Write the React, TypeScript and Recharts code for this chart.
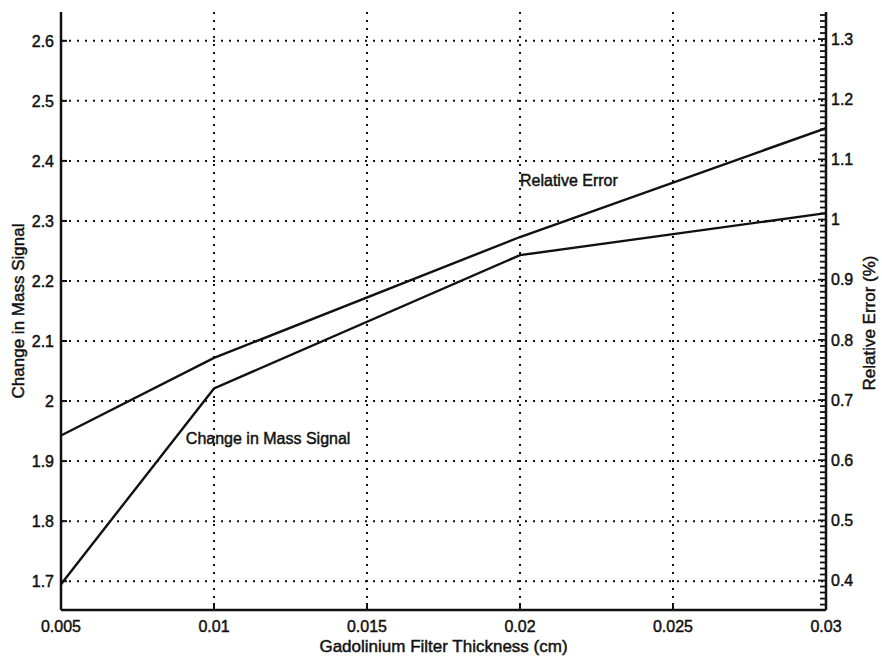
import React from 'react';
import { LineChart, Line, XAxis, YAxis, CartesianGrid, ReferenceDot } from 'recharts';

const thickness = [0.005, 0.01, 0.02, 0.03];
const massSignal = [1.695, 2.021, 2.243, 2.313];
const relativeError = [0.641, 0.77, 0.971, 1.152];

const xTicks = [0.005, 0.01, 0.015, 0.02, 0.025, 0.03];
const leftTicks = [1.7, 1.8, 1.9, 2, 2.1, 2.2, 2.3, 2.4, 2.5, 2.6];
const rightMajorTicks = [0.4, 0.5, 0.6, 0.7, 0.8, 0.9, 1, 1.1, 1.2, 1.3];
const rightMinorStep = 0.01;
const rightMinorRange = [0.36, 1.34];

const rightTicks: number[] = [];
for (let k = Math.round(rightMinorRange[0] / rightMinorStep); k <= Math.round(rightMinorRange[1] / rightMinorStep); k++) {
  rightTicks.push(Math.round(k * rightMinorStep * 100) / 100);
}

const data = thickness.map((t, i) => ({ t, mass: massSignal[i], err: relativeError[i] }));

const FONT = '"Liberation Sans", Arial, Helvetica, sans-serif';
const FS = 16;
const TFS = 17;
const INK = '#111';
const THICK = { stroke: INK, strokeWidth: 0.45 };

const LeftTick = (p: any) => {
  const { x, y, payload } = p;
  return (
    <g>
      <line x1={x} y1={y} x2={x + 6} y2={y} stroke={INK} strokeWidth={2} />
      <text x={x - 7} y={y} dy="0.36em" textAnchor="end" fontFamily={FONT} fontSize={FS} fill={INK} {...THICK}>
        {String(payload.value)}
      </text>
    </g>
  );
};

const RightTick = (p: any) => {
  const { x, y, payload } = p;
  const v = payload.value;
  const isMajor = Math.round(v * 100) % 10 === 0;
  const label = rightMajorTicks.find((m) => Math.abs(m - v) < 1e-6);
  return (
    <g>
      <line x1={x - (isMajor ? 8 : 6)} y1={y} x2={x} y2={y} stroke={INK} strokeWidth={1.8} />
      {isMajor && label !== undefined ? (
        <text x={x + 5} y={y} dy="0.36em" textAnchor="start" fontFamily={FONT} fontSize={FS} fill={INK} {...THICK}>
          {String(label)}
        </text>
      ) : null}
    </g>
  );
};

const BottomTick = (p: any) => {
  const { x, y, payload } = p;
  return (
    <g>
      <line x1={x} y1={y} x2={x} y2={y - 7} stroke={INK} strokeWidth={2} />
      <text x={x} y={y + 16} dy="0.36em" textAnchor="middle" fontFamily={FONT} fontSize={FS} fill={INK} {...THICK}>
        {String(payload.value)}
      </text>
    </g>
  );
};

const LeftTitle = (p: any) => {
  const vb = p.viewBox || { x: 0, y: 12, width: 61, height: 598 };
  const cx = vb.x + 18;
  const cy = vb.y + vb.height / 2;
  return (
    <text x={cx} y={cy} dy="0.36em" transform={`rotate(-90 ${cx} ${cy})`} textAnchor="middle" fontFamily={FONT} fontSize={TFS} fill={INK} {...THICK}>
      Change in Mass Signal
    </text>
  );
};

const RightTitle = (p: any) => {
  const vb = p.viewBox || { x: 826, y: 12, width: 56, height: 598 };
  const cx = vb.x + 43;
  const cy = vb.y + vb.height / 2 + 12;
  return (
    <text x={cx} y={cy} dy="0.36em" transform={`rotate(-90 ${cx} ${cy})`} textAnchor="middle" fontFamily={FONT} fontSize={TFS} fill={INK} {...THICK}>
      Relative Error (%)
    </text>
  );
};

const BottomTitle = (p: any) => {
  const vb = p.viewBox || { x: 61, y: 610, width: 765, height: 49 };
  const cx = vb.x + vb.width / 2;
  const cy = vb.y + 36;
  return (
    <text x={cx} y={cy} dy="0.36em" textAnchor="middle" fontFamily={FONT} fontSize={TFS} fill={INK} {...THICK}>
      Gadolinium Filter Thickness (cm)
    </text>
  );
};

const InPlotLabel = (text: string) => (p: any) => {
  const vb = p.viewBox || { x: 0, y: 0 };
  return (
    <text x={vb.x} y={vb.y} dy="0.36em" textAnchor="start" fontFamily={FONT} fontSize={FS} fill={INK} {...THICK}>
      {text}
    </text>
  );
};

export default function App() {
  return (
    <div style={{ position: 'absolute', left: 0, top: 0, width: 882, height: 659, background: '#fff' }}>
      <LineChart width={882} height={659} data={data} margin={{ top: 12, right: 0, bottom: 0, left: 0 }}>
        <CartesianGrid
          yAxisId="left"
          xAxisId="bottom"
          stroke={INK}
          strokeWidth={2}
          strokeDasharray="2 6"
          horizontalValues={leftTicks}
          verticalValues={xTicks}
        />
        <XAxis
          xAxisId="bottom"
          dataKey="t"
          type="number"
          domain={[0.005, 0.03]}
          ticks={xTicks}
          interval={0}
          height={49}
          tickSize={0}
          tickMargin={0}
          tickLine={false}
          axisLine={{ stroke: INK, strokeWidth: 2.5 }}
          tick={BottomTick}
          allowDataOverflow
          label={{ content: BottomTitle }}
        />
        <XAxis
          xAxisId="top"
          orientation="top"
          dataKey="t"
          type="number"
          domain={[0.005, 0.03]}
          height={0}
          tick={false}
          tickLine={false}
          axisLine={{ stroke: INK, strokeWidth: 2.5 }}
        />
        <YAxis
          yAxisId="left"
          type="number"
          domain={[1.652, 2.648]}
          ticks={leftTicks}
          interval={0}
          width={61}
          tickSize={0}
          tickMargin={0}
          tickLine={false}
          axisLine={{ stroke: INK, strokeWidth: 2.5 }}
          tick={LeftTick}
          allowDataOverflow
          label={{ content: LeftTitle }}
        />
        <YAxis
          yAxisId="right"
          orientation="right"
          type="number"
          domain={[0.351, 1.345]}
          ticks={rightTicks}
          interval={0}
          width={56}
          tickSize={0}
          tickMargin={0}
          tickLine={false}
          axisLine={{ stroke: INK, strokeWidth: 2.5 }}
          tick={RightTick}
          allowDataOverflow
          label={{ content: RightTitle }}
        />
        <Line
          xAxisId="bottom"
          yAxisId="left"
          type="linear"
          dataKey="mass"
          stroke={INK}
          strokeWidth={2.4}
          dot={false}
          isAnimationActive={false}
        />
        <Line
          xAxisId="bottom"
          yAxisId="right"
          type="linear"
          dataKey="err"
          stroke={INK}
          strokeWidth={2.4}
          dot={false}
          isAnimationActive={false}
        />
        <ReferenceDot
          xAxisId="bottom"
          yAxisId="left"
          x={0.02}
          y={2.368}
          r={0}
          fill="none"
          stroke="none"
          label={{ content: InPlotLabel('Relative Error') }}
        />
        <ReferenceDot
          xAxisId="bottom"
          yAxisId="left"
          x={0.00908}
          y={1.938}
          r={0}
          fill="none"
          stroke="none"
          label={{ content: InPlotLabel('Change in Mass Signal') }}
        />
      </LineChart>
    </div>
  );
}
